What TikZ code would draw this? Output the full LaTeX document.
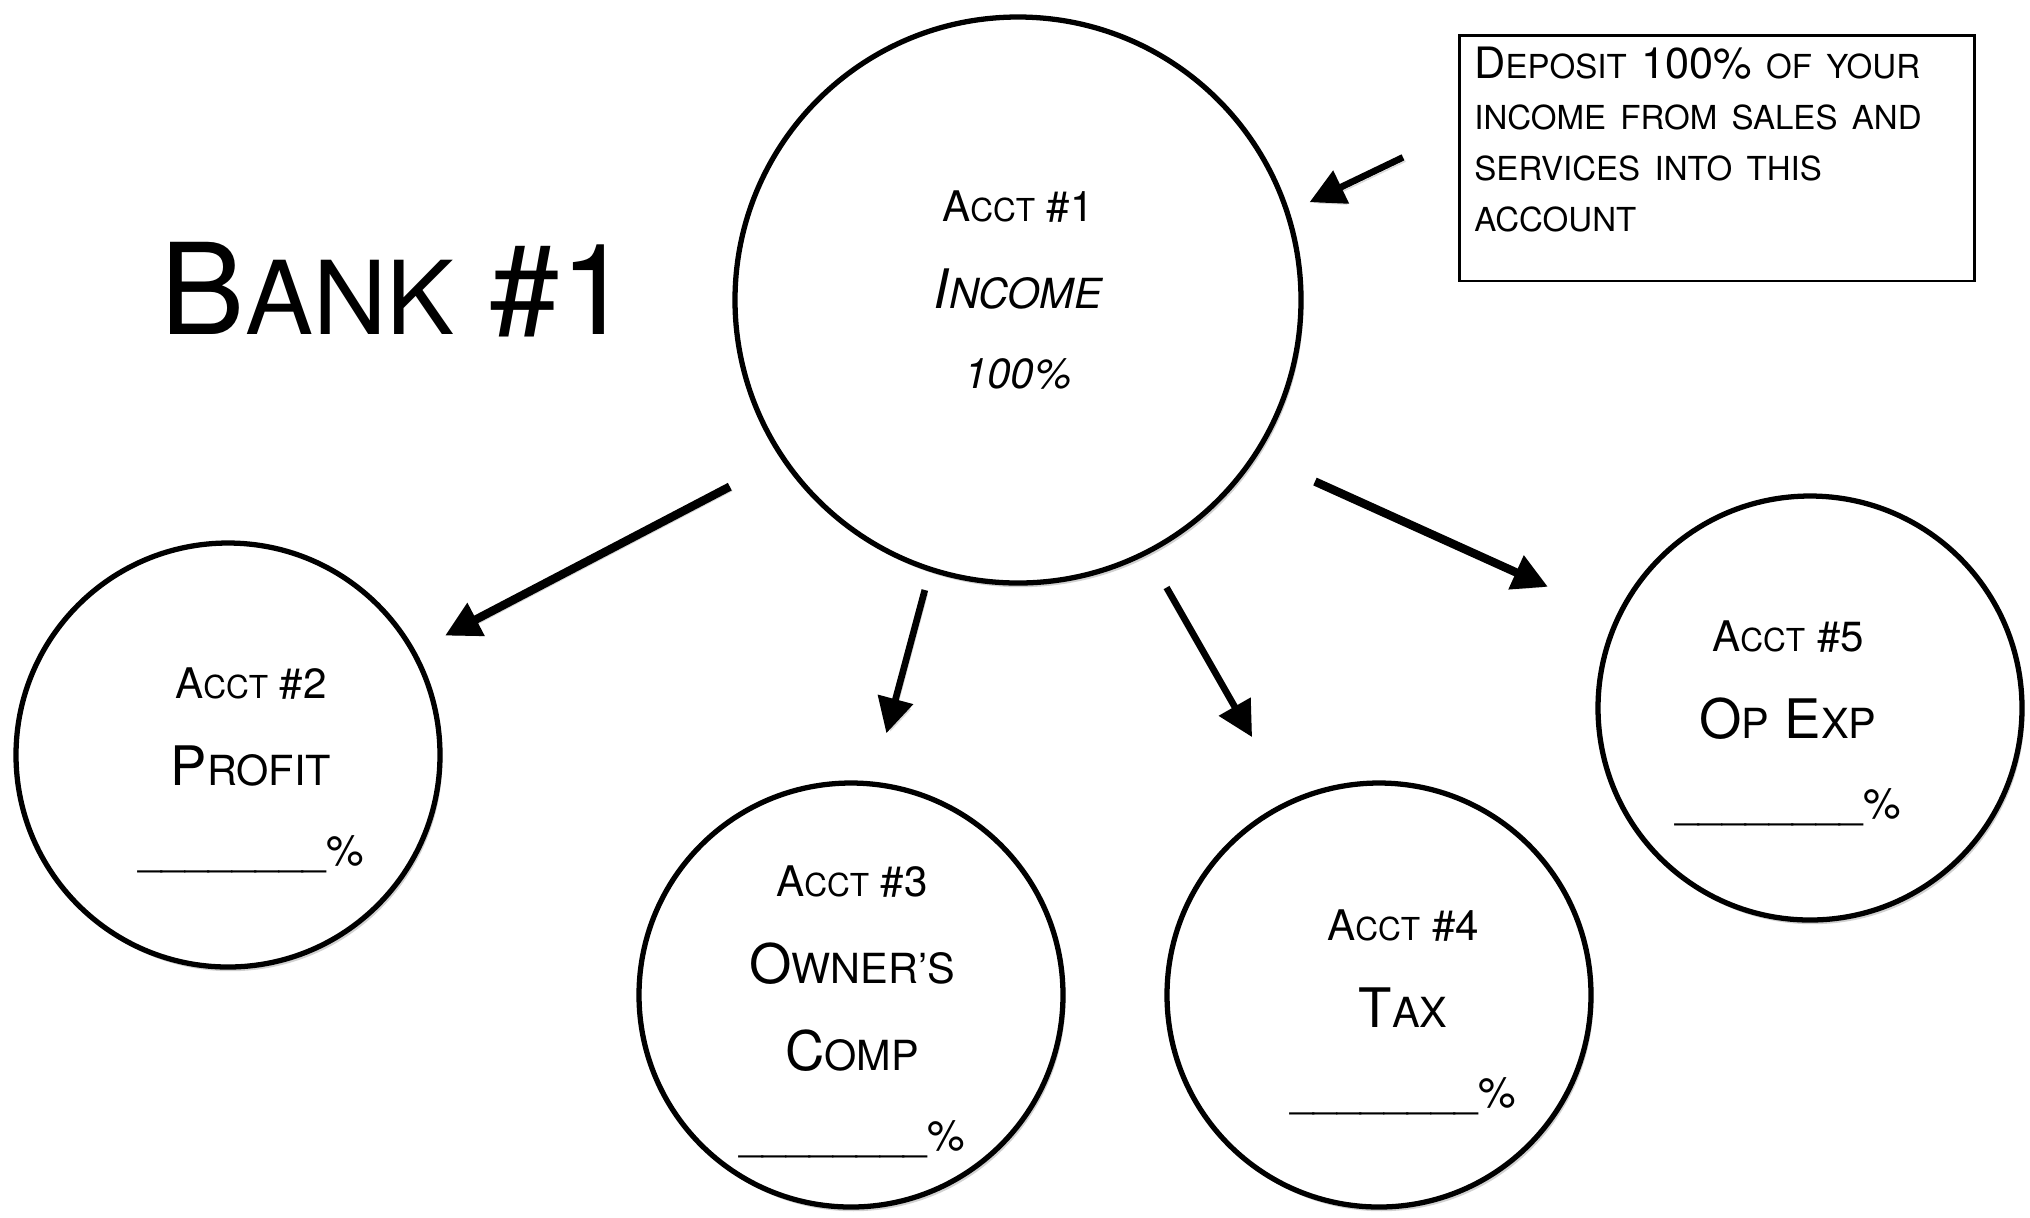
\documentclass[tikz,border=0pt]{standalone}
\usepackage{fontspec}
\setmainfont{TeX Gyre Heros}
\usetikzlibrary{arrows.meta,shadows}

\newcommand\acsc[1]{{\fontsize{9}{9}\selectfont #1}}
\newcommand\namefont{\fontsize{15.5}{24.75}\selectfont}
\newcommand\namesc[1]{{\fontsize{11.8}{11.8}\selectfont #1}}
\newcommand\banksc[1]{{\fontsize{29}{29}\selectfont #1}}
\newcommand\boxsc[1]{{\fontsize{9.4}{9.4}\selectfont #1}}
\newcommand\blank{\_\_\_\_\_\_\_\_\%}

\begin{document}
\begin{tikzpicture}[
  acct/.style={circle, draw, line width=1.5pt, fill=white, inner sep=0pt,
    drop shadow={shadow xshift=0.7pt, shadow yshift=-1.2pt, fill=black, opacity=0.18}},
  bigacct/.style={acct, minimum size=5.66cm},
  smallacct/.style={acct, minimum size=4.24cm},
  acctext/.style={anchor=base, align=center, inner sep=0pt, font=\fontsize{12}{24.75}\selectfont},
  arr/.style={-{Triangle[length=10pt,width=10pt]}, line width=1.9pt,
    preaction={draw=black!15, transform canvas={shift={(0.7pt,-1.1pt)}}}},
  notebox/.style={draw, line width=0.8pt, anchor=north west, align=left,
    text width=4.85cm, inner xsep=0.15cm, inner ysep=0.12cm, text depth=1.90cm,
    font=\fontsize{12.3}{14.5}\selectfont}
]
\useasboundingbox (0,0) rectangle (20.30,-12.17);

\node[anchor=base west, inner sep=0pt, font=\fontsize{36}{36}\selectfont] (bank) at (1.60,-3.34) {B\banksc{ANK} \#1};

% the five accounts
\node[bigacct] (c1) at (10.18,-3.00) {};
\node[smallacct] (c2) at (2.28,-7.55) {};
\node[smallacct] (c3) at (8.51,-9.95) {};
\node[smallacct] (c4) at (13.79,-9.95) {};
\node[smallacct] (c5) at (18.10,-7.08) {};

\node[acctext] (t1) at (10.18,-3.88) {A\acsc{CCT} \#1\\ {\namefont\itshape I\namesc{NCOME}}\\[-2pt] {\itshape 100\%}};
\node[acctext] (t2) at (2.51,-8.65) {A\acsc{CCT} \#2\\ {\namefont P\namesc{ROFIT}}\\[-2pt] \blank};
\node[acctext] (t3) at (8.52,-11.50) {A\acsc{CCT} \#3\\ {\namefont O\namesc{WNER’S}}\\ {\namefont C\namesc{OMP}}\\[-2pt] \blank};
\node[acctext] (t4) at (14.03,-11.07) {A\acsc{CCT} \#4\\ {\namefont T\namesc{AX}}\\[-2pt] \blank};
\node[acctext] (t5) at (17.88,-8.18) {A\acsc{CCT} \#5\\ {\namefont O\namesc{P} E\namesc{XP}}\\[-2pt] \blank};

\node[notebox] (note) at (14.58,-0.34) {D\boxsc{EPOSIT} 100\% \boxsc{OF YOUR}\\ \boxsc{INCOME FROM SALES AND}\\ \boxsc{SERVICES INTO THIS}\\ \boxsc{ACCOUNT}};

\draw[arr, shorten <=0.61cm, shorten >=0.22cm] (note.174) -- (c1.18);
\draw[arr, line width=2.4pt, shorten <=0.58cm, shorten >=0.33cm] (c1.214) -- (c2.29);
\draw[arr, shorten <=0.19cm, shorten >=0.50cm] (c1.252) -- (c3.84);
\draw[arr, shorten <=0.38cm, shorten >=0.73cm] (c1.297) -- (c4.115);
\draw[arr, line width=2.4pt, shorten <=0.63cm, shorten >=0.74cm] (c1.327) -- (c5.155);
\end{tikzpicture}
\end{document}
